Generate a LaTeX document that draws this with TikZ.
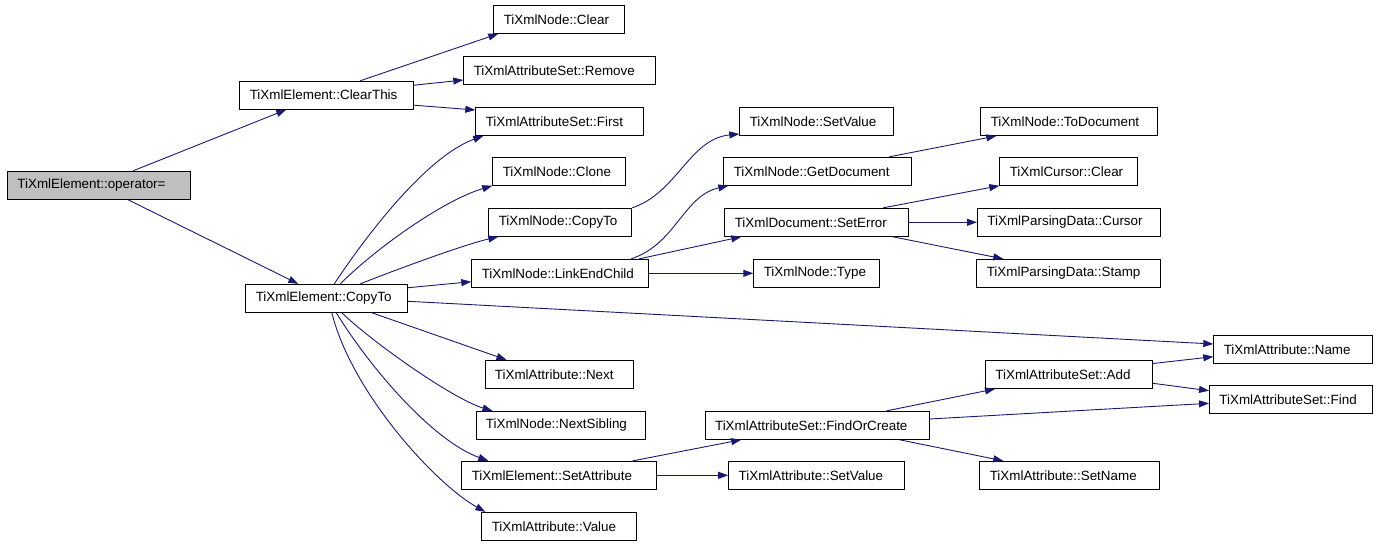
\documentclass[tikz,border=0pt]{standalone}
\usepackage{fontspec}
\newfontfamily\dxfont{Liberation Sans}
\usetikzlibrary{arrows.meta}
\definecolor{callblue}{RGB}{25,25,112}

\begin{document}
\begin{tikzpicture}[x=1pt,y=-1pt,>={Triangle[length=10pt,width=7pt]},
 font=\dxfont\fontsize{13.4}{15}\selectfont,
 every node/.style={draw=black,line width=0.9pt,anchor=west,align=left,
 inner xsep=10pt,inner ysep=0pt,minimum height=28pt},
 call/.style={->,draw=callblue,fill=none,line width=0.9pt}]
 \useasboundingbox (0,0) rectangle (1381,544);
 \node[fill=black!25,text width=163pt] (opeq) at (7,185.3) {TiXmlElement::operator=};
 \node[text width=154pt] (clearthis) at (239.3,95.2) {TiXmlElement::ClearThis};
 \node[text width=142pt] (cpE) at (245.3,298.3) {TiXmlElement::CopyTo};
 \node[text width=111pt] (nclear) at (493.3,19.3) {TiXmlNode::Clear};
 \node[text width=172pt] (remove) at (463.3,70.5) {TiXmlAttributeSet::Remove};
 \node[text width=148pt] (first) at (475.3,121.5) {TiXmlAttributeSet::First};
 \node[text width=113pt] (clone) at (492.3,171.3) {TiXmlNode::Clone};
 \node[text width=123pt] (ncopy) at (488.3,222.3) {TiXmlNode::CopyTo};
 \node[text width=157pt] (link) at (471.3,273.3) {TiXmlNode::LinkEndChild};
 \node[text width=128.5pt] (next) at (484.5,374.3) {TiXmlAttribute::Next};
 \node[text width=149pt] (sib) at (475.5,425.3) {TiXmlNode::NextSibling};
 \node[text width=175pt] (setattr) at (461.3,475.3) {TiXmlElement::SetAttribute};
 \node[text width=135pt] (value) at (481.3,526.3) {TiXmlAttribute::Value};
 \node[text width=134pt] (nsetval) at (739.3,121.5) {TiXmlNode::SetValue};
 \node[text width=168pt] (getdoc) at (723.3,171.3) {TiXmlNode::GetDocument};
 \node[text width=164pt] (seterr) at (724.3,222.3) {TiXmlDocument::SetError};
 \node[text width=106pt] (type) at (753.3,273.3) {TiXmlNode::Type};
 \node[text width=204pt] (foc) at (704.6,425.3) {TiXmlAttributeSet::FindOrCreate};
 \node[text width=156pt] (asetval) at (728.2,475.3) {TiXmlAttribute::SetValue};
 \node[text width=157pt] (todoc) at (980.3,121.5) {TiXmlNode::ToDocument};
 \node[text width=118pt] (cclear) at (999.3,171.3) {TiXmlCursor::Clear};
 \node[text width=163pt] (pdcursor) at (977,222.3) {TiXmlParsingData::Cursor};
 \node[text width=164pt] (stamp) at (976.3,273.3) {TiXmlParsingData::Stamp};
 \node[text width=147pt] (add) at (985,374.5) {TiXmlAttributeSet::Add};
 \node[text width=160pt] (setname) at (979.3,475.3) {TiXmlAttribute::SetName};
 \node[text width=139pt] (name) at (1213.3,349.3) {TiXmlAttribute::Name};
 \node[text width=143pt] (find) at (1209,399.5) {TiXmlAttributeSet::Find};
 \draw[call] ([xshift=126pt]opeq.north west) -- ([xshift=47pt]clearthis.south west);
 \draw[call] ([xshift=121pt]opeq.south west) -- ([xshift=53pt]cpE.north west);
 \draw[call] ([xshift=121pt]clearthis.north west) -- ([xshift=5pt]nclear.south west);
 \draw[call] ([yshift=10pt]clearthis.east) -- ([yshift=-9.5pt]remove.west);
 \draw[call] ([yshift=-10pt]clearthis.east) -- ([yshift=11.5pt]first.west);
 \draw[call] ([xshift=89pt]cpE.north west) .. controls +(33,-50) and +(-56,20) .. ([xshift=8pt]first.south west);
 \draw[call] ([xshift=95pt]cpE.north west) .. controls +(35,-35) and +(-50,15) .. (clone.south west);
 \draw[call] ([xshift=115pt]cpE.north west) .. controls +(30,-12) and +(-35,8) .. ([xshift=10pt]ncopy.south west);
 \draw[call] ([yshift=10.6pt]cpE.east) -- ([yshift=-8.4pt]link.west);
 \draw[call] ([yshift=-3pt]cpE.east) -- ([yshift=5.3pt]name.west);
 \draw[call] ([xshift=126.5pt]cpE.south west) -- ([xshift=22pt]next.north west);
 \draw[call] ([xshift=96.5pt]cpE.south west) .. controls +(30,29) and +(-40,-12) .. ([xshift=17pt]sib.north west);
 \draw[call] ([xshift=91pt]cpE.south west) .. controls +(35,57) and +(-55,-20) .. ([xshift=27pt]setattr.north west);
 \draw[call] ([xshift=86.5pt]cpE.south west) .. controls +(20,80) and +(-50,-28) .. ([xshift=4pt]value.north west);
 \draw[call] (ncopy.north east) .. controls +(45,-15) and +(-50,5) .. ([yshift=2pt]nsetval.south west);
 \draw[call] ([xshift=-18pt]link.north east) .. controls +(45,-15) and +(-45,10) .. ([xshift=5pt]getdoc.south west);
 \draw[call] ([xshift=-10pt]link.north east) -- ([xshift=17pt]seterr.south west);
 \foreach \a/\b in {link/type,seterr/pdcursor,setattr/asetval}
   \draw[call] (\a) -- (\b);
 \draw[call] ([xshift=-23pt]getdoc.north east) -- ([xshift=16pt]todoc.south west);
 \draw[call] ([xshift=-26pt]seterr.north east) -- (cclear.south west);
 \draw[call] ([xshift=-16.6pt]seterr.south east) -- ([xshift=27pt]stamp.north west);
 \draw[call] ([xshift=-24.5pt]setattr.north east) -- ([xshift=36.6pt]foc.south west);
 \draw[call] ([xshift=-43pt]foc.north east) -- ([xshift=10pt]add.south west);
 \draw[call] ([yshift=6.3pt]foc.east) -- ([yshift=-3.8pt]find.west);
 \draw[call] ([xshift=-30pt]foc.south east) -- ([xshift=24pt]setname.north west);
 \draw[call] ([yshift=11pt]add.east) -- ([yshift=-7.4pt]name.west);
 \draw[call] ([yshift=-8.8pt]add.east) -- ([yshift=8.8pt]find.west);
\end{tikzpicture}
\end{document}
